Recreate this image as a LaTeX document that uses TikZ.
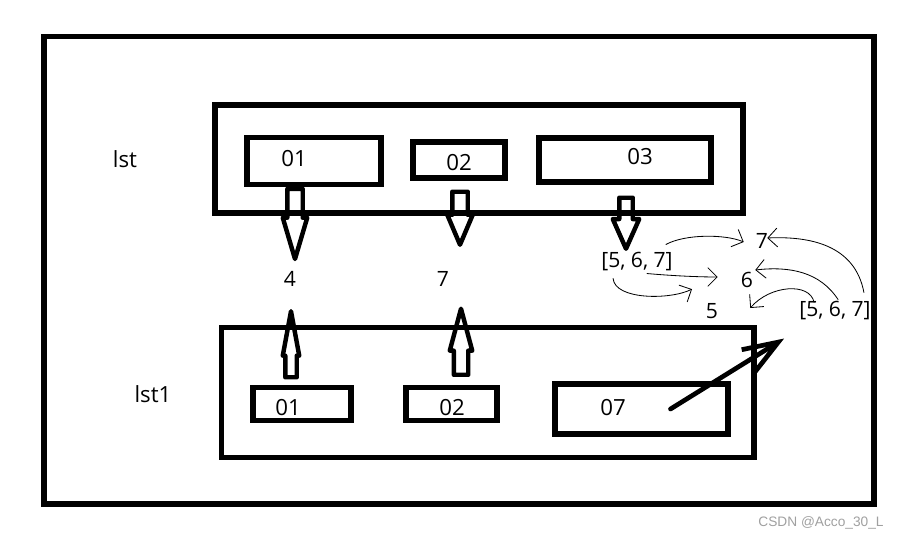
\documentclass[tikz,border=0pt]{standalone}
\usepackage{fontspec}
\setmainfont{Open Sans}
\newfontfamily\wmfont{Liberation Sans}
\usetikzlibrary{calc,arrows.meta,positioning,shapes.arrows}
\newcommand{\pxu}{0.03cm}
\definecolor{wmgray}{RGB}{160,160,160}

\begin{document}
\begin{tikzpicture}[x=0.03cm, y=-0.03cm,
  frame/.style={draw, line width=4.3pt, inner sep=0pt},
  lbl/.style={inner sep=0pt, font=\fontsize{19}{22}\selectfont},
  val/.style={inner sep=0pt, font=\fontsize{18}{21}\selectfont},
  harrow/.style={single arrow, draw, line width=3.8pt, line join=round, inner xsep=0pt, single arrow head indent=0pt},
  pen/.style={line width=0.7pt, line cap=round, -{Straight Barb[length=8pt,width=16pt]}},
  big/.style={line width=4pt, line cap=round, -{Straight Barb[length=30pt,width=22pt]}}
]
\useasboundingbox (0,0) rectangle (900,540);
% outer frame and the two lists
\node[frame, minimum width=830*\pxu, minimum height=467.5*\pxu] (outer) at (459,270.25) {};
\node[frame, minimum width=528*\pxu, minimum height=108*\pxu] (lst) at (479,159) {};
\node[frame, minimum width=532.5*\pxu, minimum height=130*\pxu] (lstone) at (487.75,392.5) {};
\node[lbl] (lstname) at (125,159) {lst};
\node[lbl] (lstonename) at (153,394) {lst1};

% cells of lst
\node[frame, minimum width=134*\pxu, minimum height=46.5*\pxu] (t01) at (314,161) {};
\node[frame, minimum width=92*\pxu, minimum height=36*\pxu] (t02) at (459,160) {};
\node[frame, minimum width=172*\pxu, minimum height=44*\pxu] (t03) at (625,160) {};
\node[lbl] (t01txt) at (294,159) {01};
\node[lbl] (t02txt) at (459,163) {02};
\node[lbl] (t03txt) at (640,157) {03};

% cells of lst1
\node[frame, minimum width=98*\pxu, minimum height=33*\pxu] (b01) at (302,404) {};
\node[frame, minimum width=91*\pxu, minimum height=33*\pxu] (b02) at (451.5,404) {};
\node[frame, minimum width=173*\pxu, minimum height=50*\pxu] (b07) at (641.5,409) {};
\node[lbl] (b01txt) at (288,408) {01};
\node[lbl] (b02txt) at (452,408) {02};
\node[lbl] (b07txt) at (613,408) {07};

% values
\node[val] (v4) at (290,279) {4};
\node[val] (v7) at (443,279) {7};
\node[val] (v567) at (637,262) {[5, 6, 7]};
\node[val] (r7) at (762,241) {7};
\node[val] (r6) at (747,280) {6};
\node[val] (r5) at (712,311) {5};
\node[val] (r567) at (835,311) {[5, 6, 7]};

% block arrows
\node[harrow, rotate=-90, anchor=tail, inner ysep=5.5*\pxu, minimum height=70*\pxu,
  single arrow head extend=4.5*\pxu, single arrow tip angle=33] (d01) at ($(t01.south)+(-19,0)$) {};
\node[harrow, rotate=-90, anchor=tail, inner ysep=5.5*\pxu, minimum height=53*\pxu,
  single arrow head extend=5*\pxu, single arrow tip angle=46] (d02) at ($(t02.south)+(1,9)$) {};
\node[harrow, rotate=-90, anchor=tail, inner ysep=4.5*\pxu, minimum height=51*\pxu,
  single arrow head extend=6.5*\pxu, single arrow tip angle=48] (d03) at ($(t03.south)+(1,11)$) {};
\node[harrow, rotate=90, anchor=tail, inner ysep=3.5*\pxu, minimum height=66*\pxu,
  single arrow head extend=2.5*\pxu, single arrow tip angle=21] (u01) at ($(b01.north)+(-11,-5.5)$) {};
\node[harrow, rotate=90, anchor=tail, inner ysep=5*\pxu, minimum height=66*\pxu,
  single arrow head extend=4*\pxu, single arrow tip angle=30] (u02) at ($(b02.north)+(9.5,-8)$) {};

% scribbled moves
\draw[pen] ($(v567.north east)+(-7,-8)$) .. controls (685,234) and (725,234) .. ($(r7.west)+(-12,1)$);
\draw[pen] ($(v567.south)+(10,2)$) .. controls (675,276) and (700,277) .. ($(r6.west)+(-23,-3)$);
\draw[pen] ($(v567.south west)+(12,7)$) .. controls (615,300) and (670,300) .. ($(r5.north)+(-20,-14)$);
\draw[pen] ($(r567.north east)+(-7,-9)$) .. controls (855,245) and (810,236) .. ($(r7.east)+(-1,-3)$);
\draw[pen] ($(r567.north)+(3,-2)$) .. controls (820,272) and (790,266) .. ($(r6.east)+(2,-10)$);
\draw[pen] ($(r567.north west)+(15,1)$) .. controls (810,282) and (770,285) .. ($(r5.east)+(32,-3)$);

\coordinate (hit) at ($(r567.south west)+(-15,18)$);
\draw[big] ($(b07.center)+(29,0)$) -- (hit);

\node[font=\wmfont\fontsize{11.7}{14}\selectfont, text=wmgray] (mark) at (821,523) {CSDN @Acco\_30\_L};
\end{tikzpicture}
\end{document}
